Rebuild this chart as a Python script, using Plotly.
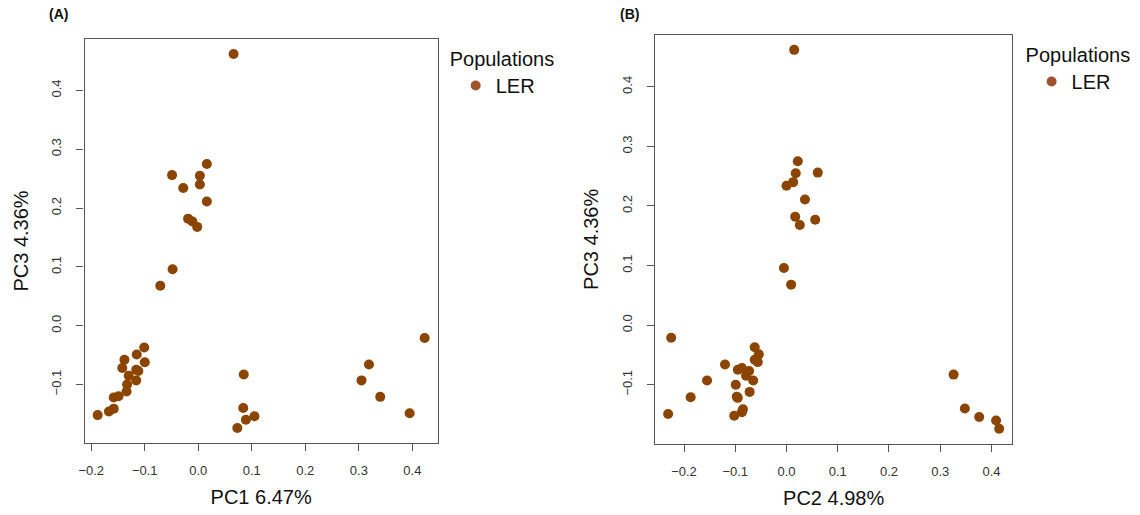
import plotly.graph_objects as go

# Principal component scores for the LER samples
pc1 = [0.066, 0.016, -0.049, 0.003, 0.003, -0.028, 0.016, -0.019, -0.011, -0.002,
       -0.048, -0.071, 0.423, 0.319, 0.305, 0.340, 0.395, 0.085, 0.084, 0.089,
       0.105, 0.073, -0.101, -0.115, -0.138, -0.100, -0.142, -0.116, -0.112, -0.130,
       -0.116, -0.133, -0.134, -0.149, -0.158, -0.158, -0.167, -0.188]
pc2 = [0.015, 0.022, 0.061, 0.018, 0.013, 0.000, 0.036, 0.017, 0.056, 0.026,
       -0.005, 0.009, -0.225, -0.120, -0.155, -0.187, -0.231, 0.326, 0.348, 0.409,
       0.376, 0.415, -0.062, -0.054, -0.062, -0.056, -0.087, -0.095, -0.073, -0.079,
       -0.065, -0.099, -0.072, -0.097, -0.095, -0.085, -0.087, -0.102]
pc3 = [0.462, 0.275, 0.256, 0.255, 0.240, 0.234, 0.211, 0.182, 0.177, 0.168,
       0.096, 0.068, -0.021, -0.066, -0.093, -0.121, -0.149, -0.083, -0.140, -0.160,
       -0.154, -0.174, -0.037, -0.049, -0.058, -0.062, -0.072, -0.075, -0.077, -0.085,
       -0.093, -0.100, -0.112, -0.120, -0.122, -0.141, -0.146, -0.152]

population = "LER"
x_ticks = [-0.2, -0.1, 0.0, 0.1, 0.2, 0.3, 0.4]
y_ticks = [-0.1, 0.0, 0.1, 0.2, 0.3, 0.4]

POINT_COLOR = "#8B4500"
KEY_COLOR = "#A0522D"
FONT = "Liberation Sans"
LINE = "#555555"
TEXT = "#111111"


def padded(v, frac=0.04):
    lo, hi = min(v), max(v)
    d = (hi - lo) * frac
    return [lo - d, hi + d]


fig = go.Figure()

panels = [
    ("x", "y", pc1, pc3, "legend"),
    ("x2", "y2", pc2, pc3, "legend2"),
]
for xa, ya, xs, ys, leg in panels:
    fig.add_trace(go.Scatter(
        x=xs, y=ys, mode="markers", xaxis=xa, yaxis=ya,
        marker=dict(color=POINT_COLOR, size=10, line=dict(width=0)),
        showlegend=False, name=population,
    ))
    # legend key entry
    fig.add_trace(go.Scatter(
        x=[None], y=[None], mode="markers", xaxis=xa, yaxis=ya,
        marker=dict(color=KEY_COLOR, size=10, line=dict(width=0)),
        name=population, legend=leg, showlegend=True,
    ))

axis_common = dict(
    showline=True, mirror=True, linecolor=LINE, linewidth=1.3,
    ticks="outside", ticklen=7, tickwidth=1.2, tickcolor=LINE,
    showgrid=False, zeroline=False,
    tickfont=dict(family=FONT, size=13, color="#333333"),
    tickformat=".1f",
)
title_font = dict(family=FONT, size=20, color=TEXT)
legend_font = dict(family=FONT, size=20, color=TEXT)

fig.update_layout(
    width=1140, height=515,
    margin=dict(l=0, r=0, t=0, b=0),
    paper_bgcolor="white", plot_bgcolor="white",
    font=dict(family=FONT),
    xaxis=dict(domain=[0.0693, 0.3807], range=padded(pc1), tickvals=x_ticks,
               ticklabelstandoff=8,
               title=dict(text="PC1 6.47%", font=title_font, standoff=13),
               anchor="y", **axis_common),
    yaxis=dict(domain=[0.1398, 0.9243], range=padded(pc3), tickvals=y_ticks,
               tickangle=-90, ticklabelstandoff=10,
               title=dict(text="PC3 4.36%", font=title_font, standoff=15),
               anchor="x", **axis_common),
    xaxis2=dict(domain=[0.5722, 0.8875], range=padded(pc2), tickvals=x_ticks,
                ticklabelstandoff=8,
                title=dict(text="PC2 4.98%", font=title_font, standoff=13),
                anchor="y2", **axis_common),
    yaxis2=dict(domain=[0.1379, 0.9326], range=padded(pc3), tickvals=y_ticks,
                tickangle=-90, ticklabelstandoff=10,
                title=dict(text="PC3 4.36%", font=title_font, standoff=15),
                anchor="x2", **axis_common),
    legend=dict(x=444 / 1140, y=1 - 40 / 515, xanchor="left", yanchor="top",
                title=dict(text="Populations", font=legend_font),
                font=legend_font, bgcolor="rgba(0,0,0,0)", indentation=8),
    legend2=dict(x=1023 / 1140, y=1 - 36 / 515, xanchor="left", yanchor="top",
                 title=dict(text="Populations", font=legend_font),
                 font=legend_font, bgcolor="rgba(0,0,0,0)", indentation=8),
    annotations=[
        dict(text="<b>(A)</b>", x=53 / 1140, y=1 - 14 / 515, xref="paper", yref="paper",
             xanchor="center", yanchor="middle", showarrow=False,
             font=dict(family=FONT, size=14, color=TEXT)),
        dict(text="<b>(B)</b>", x=627 / 1140, y=1 - 14 / 515, xref="paper", yref="paper",
             xanchor="center", yanchor="middle", showarrow=False,
             font=dict(family=FONT, size=14, color=TEXT)),
    ],
)

fig.write_html("out.html")
